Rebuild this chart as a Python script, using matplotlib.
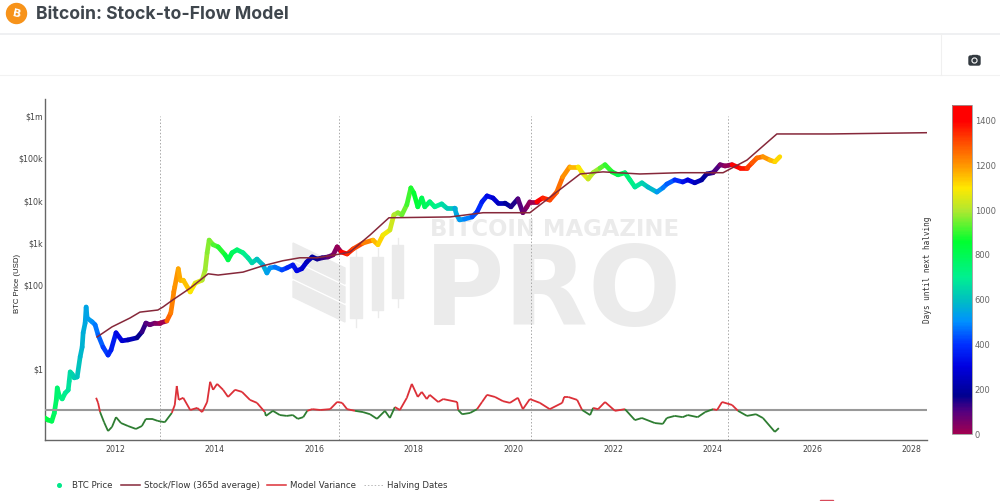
import numpy as np
import matplotlib
matplotlib.use("Agg")
import matplotlib.pyplot as plt
from matplotlib.collections import LineCollection
from matplotlib.colors import LinearSegmentedColormap, Normalize
from matplotlib.colorbar import ColorbarBase
from matplotlib.lines import Line2D
from matplotlib.patches import Circle, Polygon, Rectangle, FancyBboxPatch

# BTC price (decimal year, log10 of USD)
price_year = [2010.59, 2010.65, 2010.73, 2010.78, 2010.82, 2010.84, 2010.88, 2010.94, 2011.00, 2011.06,
              2011.08, 2011.10, 2011.14, 2011.18, 2011.24, 2011.30, 2011.34, 2011.36, 2011.40, 2011.42,
              2011.44, 2011.54, 2011.60, 2011.66, 2011.76, 2011.86, 2011.92, 2012.02, 2012.14, 2012.26,
              2012.44, 2012.54, 2012.62, 2012.70, 2012.80, 2012.90, 2013.04, 2013.12, 2013.16, 2013.18,
              2013.20, 2013.27, 2013.31, 2013.37, 2013.51, 2013.61, 2013.75, 2013.81, 2013.85, 2013.89,
              2013.97, 2014.07, 2014.21, 2014.27, 2014.35, 2014.45, 2014.57, 2014.67, 2014.75, 2014.85,
              2014.97, 2015.05, 2015.11, 2015.21, 2015.35, 2015.45, 2015.57, 2015.65, 2015.75, 2015.85,
              2015.96, 2016.06, 2016.16, 2016.28, 2016.38, 2016.46, 2016.54, 2016.66, 2016.78, 2016.98,
              2017.18, 2017.28, 2017.38, 2017.52, 2017.60, 2017.68, 2017.76, 2017.86, 2017.94, 2018.00,
              2018.08, 2018.16, 2018.22, 2018.32, 2018.42, 2018.56, 2018.66, 2018.82, 2018.86, 2018.92,
              2019.02, 2019.17, 2019.27, 2019.37, 2019.47, 2019.59, 2019.69, 2019.83, 2019.95, 2020.09,
              2020.19, 2020.27, 2020.33, 2020.47, 2020.59, 2020.73, 2020.87, 2020.99, 2021.13, 2021.30,
              2021.38, 2021.50, 2021.60, 2021.74, 2021.84, 2021.98, 2022.10, 2022.24, 2022.34, 2022.44,
              2022.58, 2022.70, 2022.88, 2023.00, 2023.08, 2023.24, 2023.40, 2023.50, 2023.64, 2023.78,
              2023.88, 2024.01, 2024.15, 2024.25, 2024.39, 2024.55, 2024.69, 2024.79, 2024.89, 2025.01,
              2025.15, 2025.25, 2025.35]
price_log = [-1.16, -1.21, -1.24, -1.05, -0.74, -0.45, -0.64, -0.71, -0.57, -0.50,
             -0.29, -0.07, -0.12, -0.21, -0.19, 0.29, 0.52, 0.86, 1.09, 1.47,
             1.21, 1.12, 1.05, 0.81, 0.52, 0.33, 0.45, 0.86, 0.67, 0.69,
             0.74, 0.88, 1.09, 1.05, 1.09, 1.09, 1.14, 1.33, 1.64, 1.83,
             1.95, 2.38, 2.11, 2.11, 1.83, 2.04, 2.11, 2.35, 2.76, 3.06,
             2.95, 2.90, 2.71, 2.59, 2.76, 2.83, 2.76, 2.64, 2.52, 2.61,
             2.47, 2.28, 2.40, 2.42, 2.35, 2.40, 2.47, 2.33, 2.38, 2.54,
             2.66, 2.61, 2.64, 2.66, 2.71, 2.90, 2.78, 2.73, 2.85, 2.99,
             3.06, 2.95, 3.18, 3.30, 3.66, 3.71, 3.66, 3.90, 4.30, 4.18,
             3.85, 4.06, 3.85, 3.97, 3.85, 3.92, 3.82, 3.82, 3.66, 3.54,
             3.56, 3.61, 3.73, 3.97, 4.11, 4.06, 3.94, 3.94, 3.85, 4.04,
             3.71, 3.85, 3.97, 3.97, 4.06, 4.01, 4.20, 4.56, 4.80, 4.80,
             4.66, 4.51, 4.66, 4.77, 4.85, 4.68, 4.61, 4.66, 4.49, 4.32,
             4.42, 4.32, 4.20, 4.30, 4.39, 4.49, 4.44, 4.49, 4.42, 4.49,
             4.63, 4.66, 4.85, 4.82, 4.85, 4.77, 4.77, 4.89, 5.01, 5.04,
             4.96, 4.92, 5.04]

# Stock/Flow model line
sf_year = [2011.64, 2011.94, 2012.30, 2012.50, 2012.86, 2012.96, 2013.16, 2013.51, 2013.87, 2014.07,
           2014.57, 2014.97, 2015.37, 2015.71, 2016.06, 2016.52, 2016.72, 2017.12, 2017.50, 2018.73,
           2019.39, 2020.33, 2021.34, 2021.80, 2022.54, 2023.35, 2024.21, 2024.69, 2025.29, 2026.36,
           2028.31]
sf_log = [0.76, 1.00, 1.21, 1.35, 1.40, 1.47, 1.64, 1.92, 2.26, 2.23,
          2.30, 2.45, 2.57, 2.64, 2.64, 2.73, 2.78, 3.18, 3.59, 3.61,
          3.71, 3.71, 4.63, 4.68, 4.63, 4.66, 4.66, 4.96, 5.58, 5.58,
          5.61]

# Model variance (0 = the grey baseline)
var_year = [2011.62, 2011.66, 2011.70, 2011.78, 2011.86, 2011.94, 2012.02, 2012.12, 2012.26, 2012.42,
            2012.54, 2012.62, 2012.74, 2012.86, 2013.00, 2013.14, 2013.20, 2013.24, 2013.28, 2013.37,
            2013.51, 2013.65, 2013.75, 2013.85, 2013.91, 2013.97, 2014.05, 2014.17, 2014.27, 2014.41,
            2014.55, 2014.71, 2014.85, 2015.01, 2015.03, 2015.17, 2015.31, 2015.45, 2015.57, 2015.67,
            2015.78, 2015.86, 2015.96, 2016.12, 2016.32, 2016.46, 2016.56, 2016.66, 2016.82, 2016.98,
            2017.12, 2017.26, 2017.42, 2017.52, 2017.62, 2017.72, 2017.86, 2017.96, 2018.08, 2018.16,
            2018.26, 2018.32, 2018.49, 2018.59, 2018.87, 2018.89, 2018.97, 2019.13, 2019.27, 2019.37,
            2019.47, 2019.63, 2019.79, 2019.93, 2020.09, 2020.19, 2020.33, 2020.53, 2020.73, 2020.98,
            2021.02, 2021.10, 2021.28, 2021.38, 2021.54, 2021.60, 2021.70, 2021.84, 2022.04, 2022.24,
            2022.44, 2022.58, 2022.84, 2023.00, 2023.08, 2023.24, 2023.40, 2023.50, 2023.70, 2023.85,
            2024.01, 2024.09, 2024.19, 2024.39, 2024.51, 2024.69, 2024.87, 2025.01, 2025.25, 2025.33]
var_val = [0.29, 0.17, -0.05, -0.29, -0.50, -0.40, -0.17, -0.31, -0.38, -0.45,
           -0.38, -0.21, -0.21, -0.26, -0.29, -0.07, 0.12, 0.57, 0.24, 0.29,
           0.00, 0.05, -0.05, 0.19, 0.67, 0.48, 0.62, 0.48, 0.31, 0.48,
           0.43, 0.24, 0.17, -0.05, -0.14, -0.02, -0.12, -0.14, -0.12, -0.21,
           -0.17, -0.02, 0.02, 0.00, 0.02, 0.19, 0.17, 0.02, -0.02, -0.05,
           -0.10, -0.21, -0.02, -0.19, 0.07, 0.00, 0.29, 0.62, 0.31, 0.43,
           0.26, 0.36, 0.19, 0.26, 0.19, 0.00, -0.10, -0.07, 0.02, 0.19,
           0.36, 0.31, 0.21, 0.17, 0.29, 0.02, 0.26, 0.17, 0.02, 0.17,
           0.31, 0.31, 0.24, 0.00, -0.12, 0.05, 0.02, 0.19, -0.02, 0.02,
           -0.24, -0.19, -0.31, -0.33, -0.19, -0.14, -0.17, -0.12, -0.17, -0.05,
           0.02, 0.00, 0.19, 0.12, -0.02, -0.14, -0.10, -0.19, -0.52, -0.43]

halving_years = [2012.90, 2016.50, 2020.35, 2024.30, 2028.31]
year_ticks = [2012, 2014, 2016, 2018, 2020, 2022, 2024, 2026, 2028]
y_tick_values = [1, 100, 1000, 10000, 100000, 1000000]
y_tick_labels = ["$1", "$100", "$1k", "$10k", "$100k", "$1m"]
cbar_ticks = [0, 200, 400, 600, 800, 1000, 1200, 1400]

W, H = 1000, 501
plt.rcParams["font.family"] = ["DejaVu Sans"]
fig = plt.figure(figsize=(W / 100, H / 100), dpi=100)

# page furniture and watermark drawn in pixel space behind the chart
bg = fig.add_axes([0, 0, 1, 1], zorder=0)
bg.set_xlim(0, W)
bg.set_ylim(H, 0)
bg.axis("off")
bg.add_patch(Circle((16.5, 13.5), 10, color="#f7931a"))
bg.text(16.5, 13.5, "B", color="white", fontsize=8, fontweight="bold", ha="center", va="center", rotation=-12)
bg.text(35.5, 14, "Bitcoin: Stock-to-Flow Model", color="#3f464d", fontsize=12.7,
        fontweight="bold", family="Inter", va="center")
bg.plot([0, W], [34, 34], color="#eceef0", lw=1.2)
bg.plot([0, W], [75, 75], color="#f2f2f2", lw=0.8)
bg.plot([941, 941], [34, 75], color="#f0f0f0", lw=0.8)
bg.add_patch(FancyBboxPatch((969, 56), 11, 9, boxstyle="round,pad=0,rounding_size=1.5", color="#333a40"))
bg.add_patch(Rectangle((972, 54.5), 5, 2, color="#333a40"))
bg.add_patch(Circle((974.5, 60.5), 2.4, color="white"))
bg.add_patch(Circle((974.5, 60.5), 1.3, color="#333a40"))
bg.add_patch(Rectangle((820, 499.5), 13, 1.5, color="#d84a5a"))

wm = "#ebebeb"
bg.text(430, 236.5, "BITCOIN MAGAZINE", color=wm, fontsize=16.4, fontweight="bold", va="baseline")
bg.text(424, 325, "PRO", color=wm, fontsize=79, fontweight="bold", va="baseline")
for top in (243, 262, 281):
    bg.add_patch(Polygon([(293, top), (345, top + 25), (345, top + 41), (293, top + 16)], color=wm))
for x0, x1, y0, y1, t0, t1 in [(350, 362, 257, 318, 250, 327), (372, 383, 257, 310, 248, 317),
                               (392, 403, 245, 298, 238, 307)]:
    bg.add_patch(Rectangle((x0, y0), x1 - x0, y1 - y0, color=wm))
    bg.plot([(x0 + x1) / 2, (x0 + x1) / 2], [t0, t1], color=wm, lw=1)

# main axes
ax = fig.add_axes([45 / W, 1 - 440 / H, 882 / W, 341 / H], zorder=2)
ax.patch.set_alpha(0)
ax.set_yscale("log")
ax.set_xlim(2010.594, 2028.305)
ax.set_ylim(10 ** -1.686, 10 ** 6.41)

cmap = LinearSegmentedColormap.from_list("halving", [
    (0 / 1470, "#a00050"), (100 / 1470, "#520080"), (170 / 1470, "#000090"), (300 / 1470, "#0000e0"),
    (400 / 1470, "#0030ff"), (500 / 1470, "#0090ff"), (600 / 1470, "#00c0c0"), (700 / 1470, "#00f090"),
    (860 / 1470, "#00ff30"), (1000 / 1470, "#b0e830"), (1100 / 1470, "#ffe800"), (1200 / 1470, "#ff9800"),
    (1300 / 1470, "#ff5000"), (1400 / 1470, "#ff0000"), (1470 / 1470, "#ff0000")])
norm = Normalize(0, 1470)

# colour each price point by days until next halving
days = []
for yr in price_year:
    next_h = min(h for h in halving_years if h >= yr)
    days.append((next_h - yr) * 365.25)
days = np.array(days)

price = 10 ** np.array(price_log)
pts = np.column_stack([price_year, price])
segs = np.stack([pts[:-1], pts[1:]], axis=1)
price_lc = LineCollection(segs, colors=cmap(norm(days[:-1])), linewidths=3.4, capstyle="round", zorder=3)
ax.add_collection(price_lc)

ax.plot(sf_year, 10 ** np.array(sf_log), color="#86283a", lw=1.1, zorder=4)
ax.vlines(halving_years, 10 ** -1.686, 1e6, color="#a8a8a8", lw=0.7, linestyles=(0, (1.5, 2)), zorder=1)

ax.set_xticks(year_ticks)
ax.set_xticklabels([str(y) for y in year_ticks])
ax.set_yticks(y_tick_values)
ax.set_yticklabels(y_tick_labels)
ax.minorticks_off()
ax.tick_params(axis="both", length=0, labelsize=5.7, labelcolor="#444444")
ax.tick_params(axis="x", pad=3.5)
ax.tick_params(axis="y", pad=1.5)
for side in ("top", "right"):
    ax.spines[side].set_visible(False)
for side in ("left", "bottom"):
    ax.spines[side].set_color("#666666")
    ax.spines[side].set_linewidth(1.0)
ax.set_ylabel("BTC Price (USD)", fontsize=5.6, color="#222222", family="Liberation Sans")
ax.yaxis.set_label_coords(-24 / 882, 0.46)

# model variance on its own hidden axis
ax2 = ax.twinx()
ax2.set_ylim(-0.7125, 7.386)
ax2.axis("off")
ax2.axhline(0, color="#999999", lw=1.5, zorder=2)
vx = np.array(var_year)
vy = np.array(var_val)
var_segs = np.stack([np.column_stack([vx[:-1], vy[:-1]]), np.column_stack([vx[1:], vy[1:]])], axis=1)
var_cols = ["#dc3038" if (a + b) / 2 >= 0 else "#2e7d32" for a, b in zip(vy[:-1], vy[1:])]
ax2.add_collection(LineCollection(var_segs, colors=var_cols, linewidths=1.3, zorder=3))

fig.text(928 / W, 1 - 269.5 / H, "Days until next halving", rotation=90, fontsize=5.6, color="#333333",
         ha="center", va="center", family="DejaVu Sans Mono")

# colorbar
cax = fig.add_axes([952 / W, 1 - 434 / H, 20 / W, 329 / H], zorder=2)
cb = ColorbarBase(cax, cmap=cmap, norm=norm, ticks=cbar_ticks)
cb.ax.tick_params(length=0, labelsize=6, labelcolor="#666666", pad=2)
cb.outline.set_edgecolor("#999999")
cb.outline.set_linewidth(0.6)

# legend
handles = [Line2D([], [], marker="o", ms=2.6, ls="", color="#00e88a"),
           Line2D([], [], color="#86283a", lw=1.1),
           Line2D([], [], color="#dc3038", lw=1.1),
           Line2D([], [], color="#b8b8b8", lw=0.7, ls=(0, (1.5, 2)))]
labels = ["BTC Price", "Stock/Flow (365d average)", "Model Variance", "Halving Dates"]
fig.legend(handles, labels, loc="center left", bbox_to_anchor=(41.8 / W, 1 - 485.5 / H), ncol=4, frameon=False,
           fontsize=6.2, labelcolor="#333333", handlelength=2.2, handletextpad=0.46, columnspacing=0.9)

fig.savefig("out.png", dpi=100)
